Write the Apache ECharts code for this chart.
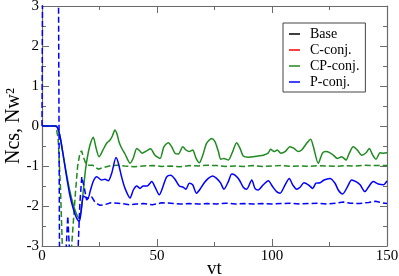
<!DOCTYPE html>
<html><head><meta charset="utf-8">
<script src="https://cdn.jsdelivr.net/npm/echarts@6/dist/echarts.min.js"></script>
<style>html,body{margin:0;padding:0;background:#fff}#c{width:399px;height:276px}</style>
</head><body><div id="c"></div>
<script>
const xTicks = [0, 50, 100, 150];
const yTicks = [-3, -2, -1, 0, 1, 2, 3];
const seriesNames = ['Base', 'C-conj.', 'CP-conj.', 'P-conj.'];

// Base and C-conj. curves are not visible in the reference (covered by the others)
const baseNcs = [];
const cConjNcs = [];

const cpConjNcs = [[0,0],[6,0],[6.8,-0.05],[7.8,-0.25],[9,-0.65],[10.5,-1.15],[12,-1.6],[13.5,-1.95],[15,-2.2],[16.2,-2.31],[17,-2.1],[18,-1.6],[19,-1.05],[20,-0.7],[21,-0.45],[22.3,-0.28],[23.5,-0.55],[24.8,-0.77],[26.5,-0.6],[28.1,-0.43],[29.6,-0.35],[30.6,-0.25],[31.7,-0.1],[32.6,-0.2],[33.5,-0.4],[34.6,-0.55],[36.1,-0.7],[38.3,-0.93],[39.7,-0.8],[41.2,-0.56],[42.5,-0.62],[43.5,-0.68],[45.5,-0.62],[47.2,-0.57],[49.1,-0.73],[51.3,-0.81],[53,-0.52],[54.9,-0.42],[56.4,-0.52],[57.8,-0.68],[59.3,-0.7],[61.2,-0.52],[62.6,-0.6],[64,-0.64],[65.5,-0.6],[67,-0.81],[68.4,-0.92],[69.9,-0.73],[71.6,-0.43],[73.8,-0.31],[75.2,-0.39],[76.7,-0.64],[77.7,-0.83],[79.1,-0.81],[81,-0.85],[82.9,-0.64],[84.6,-0.42],[86.1,-0.56],[87.5,-0.75],[89.7,-0.78],[91.9,-0.77],[94,-0.75],[96.2,-0.73],[98.4,-0.67],[99.4,-0.58],[100.9,-0.64],[102.3,-0.6],[103.8,-0.68],[105.7,-0.64],[107.8,-0.52],[109.6,-0.56],[111.4,-0.64],[112.9,-0.6],[115.1,-0.43],[116.8,-0.33],[118,-0.52],[120.1,-0.93],[122,-0.67],[123.5,-0.64],[125.2,-0.67],[126.7,-0.73],[128.4,-0.81],[130.3,-0.77],[132.2,-0.85],[133.6,-0.68],[135.3,-0.52],[137.1,-0.6],[139,-0.73],[140.9,-0.67],[142.3,-0.56],[143.8,-0.73],[145.2,-0.83],[147,-0.67],[148.4,-0.68],[150,-0.67]];

const cpConjNw2 = [[0,0],[6,0],[7,-0.3],[8,-1.5],[9,-3.3],[10,-3.8],[10.8,-3.1],[11.5,-3.6],[12.5,-3.3],[13.5,-2.5],[14.5,-1.7],[15.5,-1.0],[16.5,-0.68],[17.2,-0.62],[18,-0.78],[19,-0.93],[20,-0.98],[22,-0.98],[24.5,-1.08],[26,-1.05],[28,-1.02],[30,-0.99],[33,-0.98],[36,-1.0],[40,-1.02],[44,-1.0],[48,-0.99],[52,-1.01],[56,-1.0],[60,-1.02],[64,-0.99],[68,-1.0],[72,-0.98],[76,-0.99],[80,-1.01],[84,-1.0],[88,-1.01],[92,-0.99],[96,-1.01],[100,-1.0],[104,-0.99],[108,-1.01],[112,-1.0],[116,-1.01],[120,-0.99],[124,-1.0],[128,-1.01],[132,-0.99],[136,-1.0],[140,-0.98],[144,-0.99],[148,-0.99],[150,-0.99]];

const pConjNcs = [[0,0],[6,0],[6.8,-0.05],[7.8,-0.25],[9,-0.65],[10.5,-1.2],[12,-1.7],[13.5,-2.05],[15,-2.3],[16.2,-2.39],[17,-2.15],[18,-1.75],[19,-1.78],[20,-1.8],[21,-1.62],[22.3,-1.38],[23.8,-1.27],[25.9,-1.35],[27.4,-1.33],[28.8,-1.37],[30.3,-1.18],[32.2,-0.79],[33.2,-0.93],[34.6,-1.27],[36.1,-1.56],[38.3,-1.8],[39.7,-1.6],[41.2,-1.5],[42.6,-1.56],[44,-1.5],[45.8,-1.5],[47.7,-1.39],[49.1,-1.52],[51,-1.72],[52.5,-1.53],[54.2,-1.27],[56,-1.23],[57.8,-1.33],[59.7,-1.5],[61.4,-1.53],[62.6,-1.58],[64,-1.43],[65.5,-1.47],[67.2,-1.68],[68.7,-1.58],[70.4,-1.43],[72.3,-1.31],[74.2,-1.25],[75.9,-1.31],[77.7,-1.43],[79.1,-1.58],[81,-1.39],[82.5,-1.2],[83.9,-1.23],[85.8,-1.35],[87.5,-1.53],[89,-1.58],[91.2,-1.35],[92.6,-1.56],[94,-1.6],[96.2,-1.47],[98.4,-1.37],[100.3,-1.52],[102,-1.64],[103.5,-1.68],[105.7,-1.47],[107.5,-1.31],[109,-1.47],[110.7,-1.58],[112.2,-1.53],[113.9,-1.42],[115.8,-1.47],[117.7,-1.56],[119.1,-1.43],[120.9,-1.42],[122.6,-1.35],[125.2,-1.31],[127.4,-1.43],[128.8,-1.6],[130.7,-1.7],[132.8,-1.52],[134.6,-1.35],[136.5,-1.39],[138.3,-1.47],[140.4,-1.64],[141.9,-1.53],[144,-1.39],[146.2,-1.45],[148.4,-1.47],[150,-1.37]];

const pConjNw2 = [[0,0],[0.8,12],[6.6,12],[8.2,-12],[9.5,-5],[10.3,-3.3],[11.2,-2.25],[12.2,-3.4],[13.2,-5],[14.6,-4.5],[15.6,-3.2],[16.5,-1.9],[17.3,-1.27],[18.4,-1.55],[19.4,-1.85],[20.5,-1.78],[21.6,-1.77],[23,-1.9],[25,-1.98],[27,-1.97],[30,-1.92],[33,-1.93],[36,-1.95],[38,-1.97],[41,-1.95],[44,-1.94],[48,-1.97],[52,-1.92],[56,-1.93],[60,-1.95],[64,-1.94],[68,-1.95],[72,-1.94],[76,-1.95],[80,-1.93],[84,-1.95],[88,-1.94],[92,-1.95],[96,-1.94],[100,-1.95],[104,-1.94],[108,-1.93],[112,-1.95],[116,-1.94],[120,-1.93],[124,-1.95],[128,-1.93],[131,-1.9],[134,-1.93],[138,-1.94],[142,-1.91],[145,-1.88],[148,-1.92],[150,-1.94]];

const colors = {'Base':'#000000','C-conj.':'#ff0000','CP-conj.':'#1f8a1f','P-conj.':'#0000ff'};
const FONT = 'Liberation Serif';
const frame = '#6a6a6a';

function axisCommon(showLabel) {
  return {
    axisLine: {show: true, onZero: false, lineStyle: {color: frame, width: 1.2}},
    axisTick: {show: true, inside: true, length: 7, lineStyle: {color: frame}},
    minorTick: {show: true, splitNumber: 2, length: 4, lineStyle: {color: frame}},
    splitLine: {show: false},
    minorSplitLine: {show: false},
    axisLabel: {show: showLabel, fontFamily: FONT, fontSize: 15, color: '#000', margin: 3}
  };
}

const chart = echarts.init(document.getElementById('c'), null, {renderer: 'canvas'});
const line = (name, data, dashed) => ({
  name, type: 'line', data, showSymbol: false, symbol: 'none',
  smooth: dashed ? false : 0.25, clip: true, animation: false,
  lineStyle: {color: colors[name], width: 1.5, type: dashed ? [6, 3] : 'solid'},
  itemStyle: {color: colors[name]}
});

chart.setOption({
  animation: false,
  grid: {left: 42, right: 12, top: 6, bottom: 30, containLabel: false, outerBoundsMode: 'none'},
  legend: {
    orient: 'vertical', left: 283, top: 23,
    data: seriesNames.map(n => ({name: n, icon: 'rect', itemStyle: {color: colors[n]}})),
    itemWidth: 11, itemHeight: 1.5, itemGap: 2,
    backgroundColor: '#fff', borderColor: '#444', borderWidth: 1,
    padding: [4, 6, 3, 6],
    textStyle: {fontFamily: FONT, fontSize: 14, color: '#000', lineHeight: 14, padding: [0, 0, 0, 5]}
  },
  xAxis: [
    Object.assign({type: 'value', min: xTicks[0], max: xTicks[xTicks.length-1], interval: 50, position: 'bottom',
      name: 'vt', nameLocation: 'middle', nameGap: 14, nameMoveOverlap: false,
      nameTextStyle: {fontFamily: FONT, fontSize: 19, color: '#000'}}, axisCommon(true)),
    Object.assign({type: 'value', min: xTicks[0], max: xTicks[xTicks.length-1], interval: 50, position: 'top'}, axisCommon(false))
  ],
  yAxis: [
    Object.assign({type: 'value', min: yTicks[0], max: yTicks[yTicks.length-1], interval: 1, position: 'left',
      name: 'Ncs, Nw²', nameLocation: 'middle', nameGap: 18, nameMoveOverlap: false,
      nameTextStyle: {fontFamily: FONT, fontSize: 20, color: '#000'}}, axisCommon(true)),
    Object.assign({type: 'value', min: yTicks[0], max: yTicks[yTicks.length-1], interval: 1, position: 'right'}, axisCommon(false))
  ],
  series: [
    line('Base', baseNcs, false),
    line('C-conj.', cConjNcs, false),
    line('CP-conj.', cpConjNw2, true),
    line('CP-conj.', cpConjNcs, false),
    line('P-conj.', pConjNw2, true),
    line('P-conj.', pConjNcs, false)
  ]
});
</script></body></html>
